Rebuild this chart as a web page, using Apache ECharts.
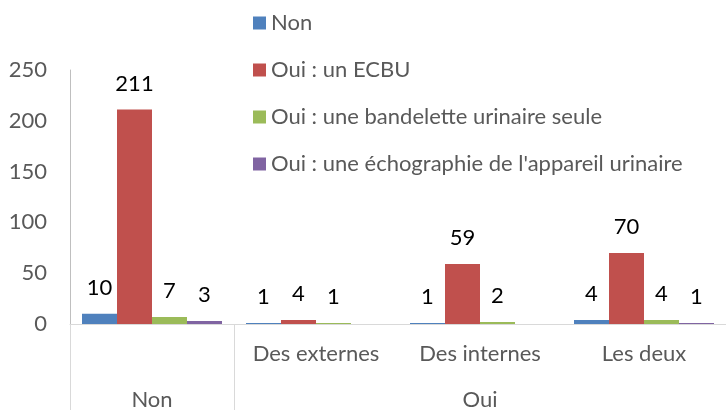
<!DOCTYPE html>
<html>
<head>
<meta charset="utf-8">
<script src="https://cdn.jsdelivr.net/npm/echarts@6/dist/echarts.min.js"></script>
<style>
  html, body { margin: 0; padding: 0; background: #fff; }
  #chart { width: 726px; height: 411px; }
</style>
</head>
<body>
<div id="chart"></div>
<script>
// sous-catégories (1er niveau de l'axe) et groupes (2e niveau)
const subCategories = ['', 'Des externes', 'Des internes', 'Les deux'];
const groupLabels = ['Non', '', 'Oui', ''];

const seriesNames = [
  'Non',
  'Oui : un ECBU',
  'Oui : une bandelette urinaire seule',
  "Oui : une échographie de l'appareil urinaire"
];
const valNon = [10, 1, 1, 4];
const valEcbu = [211, 4, 59, 70];
const valBandelette = [7, 1, 2, 4];
const valEcho = [3, null, null, 1];
const colors = ['#4f81bd', '#c0504d', '#9bbb59', '#8064a2'];

const yTicks = [0, 50, 100, 150, 200, 250];

const FONT = 'Lato, "Liberation Sans", sans-serif';

const chart = echarts.init(document.getElementById('chart'));

function bar(name, data, color) {
  return {
    name: name,
    type: 'bar',
    xAxisIndex: 0,
    data: data,
    barWidth: 35,
    barGap: '0%',
    itemStyle: { color: color },
    label: {
      show: true,
      position: 'top',
      distance: 15,
      color: '#000',
      fontSize: 22,
      fontFamily: FONT
    }
  };
}

chart.setOption({
  animation: false,
  color: colors,
  legend: {
    orient: 'vertical',
    left: 248,
    top: 7,
    itemWidth: 13,
    itemHeight: 13,
    itemGap: 25,
    icon: 'rect',
    textStyle: { color: '#595959', fontSize: 22, fontFamily: FONT },
    data: seriesNames
  },
  grid: { left: 70, right: -11, top: 70, bottom: 86 },
  xAxis: [
    {
      type: 'category',
      data: subCategories,
      axisLine: { lineStyle: { color: '#d9d9d9', width: 1 } },
      axisTick: { show: false },
      axisLabel: { color: '#595959', fontSize: 22, fontFamily: FONT, margin: 19, interval: 0 }
    },
    {
      type: 'category',
      data: groupLabels,
      position: 'bottom',
      axisLine: { show: false },
      axisTick: {
        show: true,
        length: 86,
        interval: function (idx) { return idx <= 1; },
        lineStyle: { color: '#d9d9d9' }
      },
      axisLabel: { color: '#595959', fontSize: 22, fontFamily: FONT, margin: 65, interval: 0 }
    }
  ],
  yAxis: {
    type: 'value',
    min: yTicks[0],
    max: yTicks[yTicks.length - 1],
    interval: 50,
    splitLine: { show: false },
    axisLine: { show: true, lineStyle: { color: '#bfbfbf' } },
    axisTick: { show: false },
    axisLabel: { color: '#595959', fontSize: 22, fontFamily: FONT, margin: 23 }
  },
  series: [
    bar(seriesNames[0], valNon, colors[0]),
    bar(seriesNames[1], valEcbu, colors[1]),
    bar(seriesNames[2], valBandelette, colors[2]),
    bar(seriesNames[3], valEcho, colors[3])
  ]
});
</script>
</body>
</html>
